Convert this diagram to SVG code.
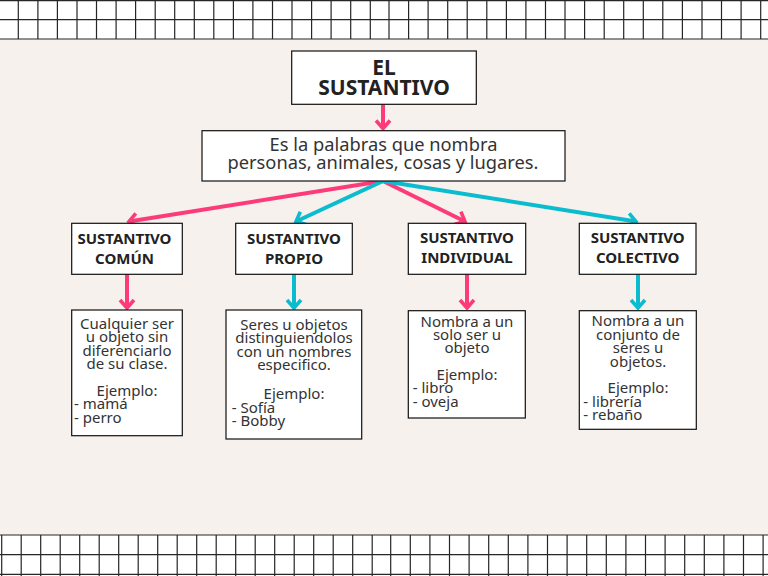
<svg xmlns="http://www.w3.org/2000/svg" width="768" height="576" viewBox="0 0 768 576">
<defs>
<style>
.grid{fill:#ffffff;}
.gl{stroke:#262626;stroke-width:1.2;fill:none;}
.box{fill:#ffffff;stroke:#111111;stroke-width:1.2;}
.title{font-family:"Noto Sans","Liberation Sans",sans-serif;font-weight:700;fill:#222222;text-anchor:middle;}
.body{font-family:"Noto Sans","Liberation Sans",sans-serif;font-weight:400;fill:#333333;font-size:15px;}
.c{text-anchor:middle;}
.pink{stroke:#fe3b7a;stroke-width:4;fill:none;}
.cyan{stroke:#0bbccf;stroke-width:4;fill:none;}
</style>
<marker id="hp" markerUnits="userSpaceOnUse" viewBox="-12 -10 16 20" refX="0" refY="0" markerWidth="16" markerHeight="20" orient="auto">
<path d="M-8,-7 L0,0 L-8,7" fill="none" stroke="#fe3b7a" stroke-width="3.6"/>
</marker>
<marker id="hc" markerUnits="userSpaceOnUse" viewBox="-12 -10 16 20" refX="0" refY="0" markerWidth="16" markerHeight="20" orient="auto">
<path d="M-8,-7 L0,0 L-8,7" fill="none" stroke="#0bbccf" stroke-width="3.6"/>
</marker>
</defs>
<rect x="0" y="0" width="768" height="576" fill="#f6f1ed"/>
<g id="grid-top">
<rect class="grid" x="0" y="0" width="768" height="39"/>
<path class="gl" d="M0,0.6H768M0,19.7H768M0,39H768
M18.3,0V39M37.9,0V39M57.4,0V39M77,0V39M96.5,0V39M116.1,0V39M135.6,0V39M155.2,0V39M174.7,0V39M194.3,0V39M213.8,0V39M233.4,0V39M252.9,0V39M272.5,0V39M292,0V39M311.6,0V39M331.1,0V39M350.7,0V39M370.3,0V39
M389,0V39M408.6,0V39M428.1,0V39M447.7,0V39M467.2,0V39M486.8,0V39M506.4,0V39M525.9,0V39M545.5,0V39M565,0V39M584.6,0V39M604.2,0V39M623.7,0V39M643.3,0V39M662.8,0V39M682.4,0V39M702,0V39M721.5,0V39M741.1,0V39M760.7,0V39"/>
</g>
<g id="grid-bottom">
<rect class="grid" x="0" y="535" width="768" height="41"/>
<path class="gl" d="M0,535H768M0,554.7H768M0,574.3H768
M1.7,535V576M21.2,535V576M40.7,535V576M60.2,535V576M79.7,535V576M99.2,535V576M118.7,535V576M138.2,535V576M157.7,535V576M177.2,535V576M196.7,535V576M216.2,535V576M235.7,535V576M255.2,535V576M274.7,535V576M294.2,535V576M313.7,535V576M333.2,535V576M352.7,535V576M372.2,535V576
M390.7,535V576M410.3,535V576M429.9,535V576M449.5,535V576M469.1,535V576M488.7,535V576M508.3,535V576M527.9,535V576M547.5,535V576M567.1,535V576M586.7,535V576M606.3,535V576M625.9,535V576M645.5,535V576M665.1,535V576M684.7,535V576M704.3,535V576M723.9,535V576M743.5,535V576M763.1,535V576"/>
</g>
<g id="connectors">
<path class="pink" d="M383,104V128.5" marker-end="url(#hp)"/>
<path class="pink" d="M383,181L129,221.5" marker-end="url(#hp)"/>
<path class="pink" d="M383,181L465,221.5" marker-end="url(#hp)"/>
<path class="cyan" d="M383,181L296,221.5" marker-end="url(#hc)"/>
<path class="cyan" d="M383,181L636,221.5" marker-end="url(#hc)"/>
<path class="pink" d="M127,274V308" marker-end="url(#hp)"/>
<path class="cyan" d="M294,274V308" marker-end="url(#hc)"/>
<path class="pink" d="M467,274V308" marker-end="url(#hp)"/>
<path class="cyan" d="M638,274V308" marker-end="url(#hc)"/>
</g>
<g id="title">
<rect class="box" x="291.7" y="51" width="184.6" height="53.3"/>
<text class="title" x="384" y="74.5" font-size="21">EL</text>
<text class="title" x="384" y="94.5" font-size="21">SUSTANTIVO</text>
</g>
<g id="definicion">
<rect class="box" x="202" y="130.7" width="363" height="50.3"/>
<text class="body c" x="383.5" y="151" style="font-size:18.3px">Es la palabras que nombra</text>
<text class="body c" x="383" y="169" style="font-size:18.3px">personas, animales, cosas y lugares.</text>
</g>
<g id="comun">
<rect class="box" x="71.7" y="223.3" width="110.6" height="51"/>
<text class="title" x="124.5" y="244" font-size="15">SUSTANTIVO</text>
<text class="title" x="124.5" y="263.5" font-size="15">COMÚN</text>
</g>
<g id="propio">
<rect class="box" x="235.7" y="223.3" width="116.6" height="51"/>
<text class="title" x="294" y="244" font-size="15">SUSTANTIVO</text>
<text class="title" x="294" y="263.5" font-size="15">PROPIO</text>
</g>
<g id="individual">
<rect class="box" x="408.3" y="223.3" width="117.4" height="51"/>
<text class="title" x="467" y="242.7" font-size="15">SUSTANTIVO</text>
<text class="title" x="467" y="262.7" font-size="15">INDIVIDUAL</text>
</g>
<g id="colectivo">
<rect class="box" x="579.3" y="223.3" width="116.7" height="51"/>
<text class="title" x="637.7" y="242.7" font-size="15">SUSTANTIVO</text>
<text class="title" x="637.7" y="262.7" font-size="15">COLECTIVO</text>
</g>
<g id="desc-comun">
<rect class="box" x="71.7" y="310" width="110.6" height="125.7"/>
<text class="body c" x="127" y="329">Cualquier ser</text>
<text class="body c" x="127" y="342.4">u objeto sin</text>
<text class="body c" x="127" y="355.8">diferenciarlo</text>
<text class="body c" x="127" y="369.2">de su clase.</text>
<text class="body c" x="127" y="396">Ejemplo:</text>
<text class="body" x="74" y="409.4">- mamá</text>
<text class="body" x="74" y="422.8">- perro</text>
</g>
<g id="desc-propio">
<rect class="box" x="226" y="310" width="135.7" height="129"/>
<text class="body c" x="294" y="330">Seres u objetos</text>
<text class="body c" x="294" y="343.4">distinguiendolos</text>
<text class="body c" x="294" y="356.8">con un nombres</text>
<text class="body c" x="294" y="370.2">especifico.</text>
<text class="body c" x="294" y="398.5">Ejemplo:</text>
<text class="body" x="231.7" y="412.5">- Sofía</text>
<text class="body" x="231.7" y="426">- Bobby</text>
</g>
<g id="desc-individual">
<rect class="box" x="408.3" y="310.7" width="117" height="107.3"/>
<text class="body c" x="467" y="326.7">Nombra a un</text>
<text class="body c" x="467" y="340">solo ser u</text>
<text class="body c" x="467" y="353.3">objeto</text>
<text class="body c" x="467" y="380">Ejemplo:</text>
<text class="body" x="412.7" y="393.3">- libro</text>
<text class="body" x="412.7" y="406.6">- oveja</text>
</g>
<g id="desc-colectivo">
<rect class="box" x="579.3" y="310.7" width="117" height="118.6"/>
<text class="body c" x="638" y="326">Nombra a un</text>
<text class="body c" x="638" y="339.5">conjunto de</text>
<text class="body c" x="638" y="353">seres u</text>
<text class="body c" x="638" y="366.5">objetos.</text>
<text class="body c" x="638" y="393.3">Ejemplo:</text>
<text class="body" x="583.3" y="406.5">- librería</text>
<text class="body" x="583.3" y="420">- rebaño</text>
</g>
</svg>
